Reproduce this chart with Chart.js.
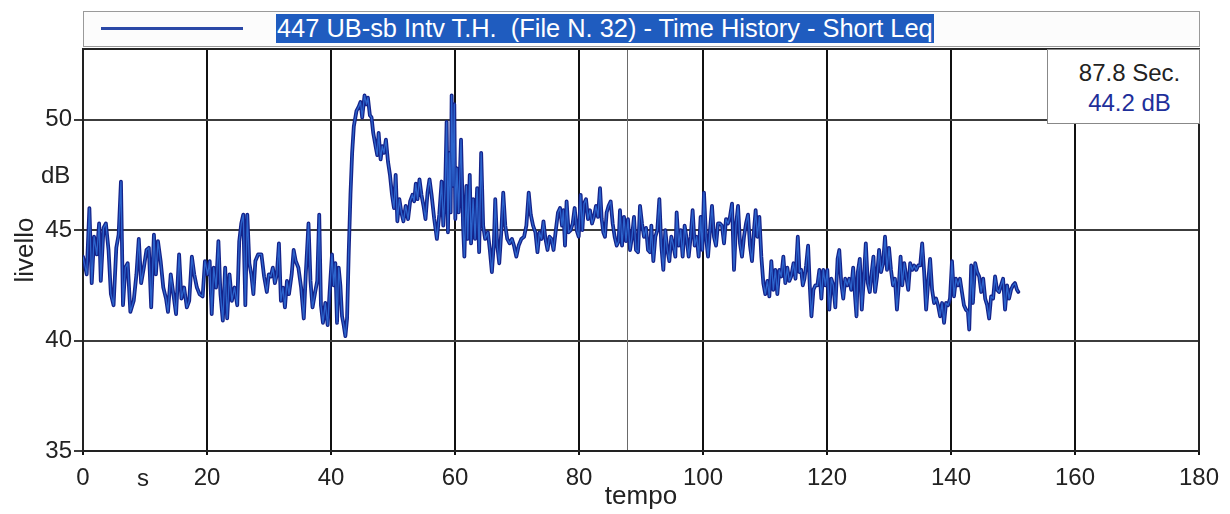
<!DOCTYPE html>
<html><head><meta charset="utf-8">
<script src="https://cdn.jsdelivr.net/npm/chart.js@4.4.1/dist/chart.umd.min.js"></script>
<style>
html,body{margin:0;padding:0;background:#fff;}
#wrap{position:relative;width:1230px;height:514px;font-family:"Liberation Sans",Arial,sans-serif;overflow:hidden;}
#c{position:absolute;left:0;top:0;}
#legend{position:absolute;left:83px;top:11px;width:1117px;height:36px;border:1px solid #9a9a9a;background:#fcfcfc;box-sizing:border-box;}
#legline{position:absolute;left:17px;top:15px;width:142px;height:3px;background:#2a48a6;}
#legtext{position:absolute;left:192px;top:2px;height:29px;line-height:29px;background:#1f5cbf;color:#fff;font-size:25.4px;white-space:pre;padding:0 1px;}
#info{position:absolute;left:1047px;top:49px;width:153px;height:75px;border:1px solid #888;background:#fff;box-sizing:border-box;text-align:center;font-size:24px;line-height:30px;padding:8px 0 0 12px;}
#info .t1{color:#222;}
#info .t2{color:#1e2f9a;}
.unit{position:absolute;font-size:24px;color:#222;line-height:24px;}
</style>
</head><body>
<div id="wrap">
<canvas id="c" width="1230" height="514"></canvas>
<div id="legend"><div id="legline"></div><span id="legtext"></span></div>
<div id="info"><div class="t1" id="infoTime"></div><div class="t2" id="infoLevel"></div></div>
<div class="unit" id="unitY" style="left:41px;top:163px;">dB</div>
<div class="unit" id="unitX" style="left:137px;top:466px;">s</div>
</div>
<script>
const seriesName = '447 UB-sb Intv T.H.  (File N. 32) - Time History - Short Leq';
const cursorTime = 87.8;
const cursorLevel = 44.2;
const xTickValues = [0, 20, 40, 60, 80, 100, 120, 140, 160, 180];
const yTickValues = [35, 40, 45, 50];

const times = [
0.0,0.6,1.03,1.41,1.79,2.22,2.6,2.87,3.31,3.69,4.12,4.5,4.93,5.37,5.75,6.12,6.45,6.83,7.21,7.64,
8.18,8.62,9.0,9.38,9.81,10.24,10.62,11.0,11.44,11.76,12.09,12.52,12.95,13.39,13.71,14.15,14.58,15.01,15.5,15.88,
16.31,16.75,17.13,17.56,17.94,18.37,18.81,19.3,19.67,20.11,20.43,20.76,21.08,21.46,21.84,22.17,22.55,22.93,23.25,23.63,
24.01,24.44,24.88,25.2,25.53,25.85,26.18,26.5,26.83,27.15,27.48,27.8,28.24,28.78,29.21,29.65,29.97,30.3,30.62,30.95,
31.27,31.6,31.92,32.25,32.57,32.9,33.22,33.66,33.98,34.31,34.74,35.18,35.61,35.93,36.37,36.69,37.02,37.45,37.78,38.1,
38.38,38.7,39.08,39.46,39.78,40.16,40.43,40.7,40.97,41.24,41.51,41.78,42.05,42.32,42.59,42.86,43.14,43.41,43.68,44.11,
44.49,44.76,45.03,45.41,45.73,45.95,46.27,46.54,46.81,47.19,47.46,47.68,48.0,48.27,48.54,48.86,49.19,49.51,49.84,50.16,
50.43,50.7,51.03,51.35,51.68,52.05,52.43,52.76,53.14,53.41,53.68,53.95,54.27,54.59,54.92,55.24,55.57,55.89,56.22,56.65,
57.08,57.46,57.84,58.11,58.43,58.65,58.86,59.08,59.3,59.46,59.68,59.89,60.05,60.32,60.59,60.97,61.3,61.51,61.84,62.05,
62.38,62.59,62.92,63.24,63.57,63.89,64.22,64.54,64.86,65.3,65.62,65.95,66.27,66.49,66.81,67.14,67.46,67.78,68.11,68.43,
68.81,69.19,69.51,69.89,70.27,70.7,71.14,71.51,71.89,72.22,72.59,72.97,73.3,73.62,73.95,74.27,74.59,74.92,75.24,75.57,
75.89,76.22,76.61,76.94,77.26,77.47,77.74,78.0,78.33,78.66,78.98,79.3,79.62,79.95,80.27,80.54,80.81,81.13,81.45,81.77,
82.1,82.42,82.74,83.06,83.39,83.66,83.92,84.19,84.46,84.78,85.11,85.43,85.75,86.08,86.4,86.61,86.94,87.26,87.58,87.9,
88.23,88.55,88.87,89.19,89.52,89.84,90.16,90.48,90.81,91.13,91.45,91.67,91.99,92.31,92.63,92.96,93.28,93.6,93.92,94.25,
94.57,94.89,95.22,95.54,95.75,96.08,96.4,96.72,97.04,97.37,97.69,98.01,98.33,98.66,98.98,99.3,99.62,99.89,100.16,100.48,
100.81,101.13,101.45,101.77,102.1,102.42,102.74,103.06,103.39,103.71,104.03,104.35,104.68,105.0,105.32,105.65,105.97,106.29,106.61,106.94,
107.26,107.58,107.9,108.23,108.49,108.76,109.09,109.41,109.73,110.05,110.38,110.7,111.02,111.34,111.67,111.99,112.31,112.63,112.96,113.28,
113.6,113.92,114.22,114.6,114.92,115.29,115.56,115.83,116.1,116.36,116.63,116.95,117.22,117.49,117.81,118.13,118.45,118.77,119.09,119.41,
119.73,120.05,120.37,120.7,121.02,121.34,121.71,121.98,122.3,122.62,122.94,123.26,123.58,123.9,124.22,124.55,124.76,124.97,125.29,125.61,
125.94,126.26,126.58,126.9,127.22,127.49,127.75,128.07,128.4,128.72,129.04,129.36,129.68,130.0,130.32,130.64,130.96,131.28,131.6,131.87,
132.14,132.46,132.78,133.1,133.42,133.74,134.06,134.39,134.71,135.03,135.35,135.67,135.99,136.31,136.63,136.95,137.27,137.59,137.91,138.24,
138.56,138.88,139.2,139.52,139.84,140.16,140.48,140.8,141.12,141.44,141.76,142.09,142.41,142.73,142.94,143.26,143.53,143.9,144.22,144.55,
144.87,145.19,145.51,145.83,146.15,146.47,146.79,147.11,147.43,147.75,148.07,148.4,148.72,149.04,149.36,149.68,150.0,150.32,150.64,150.86
];

const levels = [
43.8,43.0,46.0,42.6,44.7,43.9,45.3,42.7,45.1,45.3,44.1,42.1,41.6,44.2,44.8,47.2,41.6,43.3,43.5,41.3,
41.8,43.0,44.6,42.6,43.3,44.1,44.2,41.5,44.8,43.0,44.5,43.6,42.4,41.9,41.3,43.0,42.1,41.2,43.9,41.9,
42.4,41.5,41.8,43.8,43.0,42.4,42.1,42.0,43.6,43.0,43.6,41.2,43.3,42.4,44.5,42.1,40.9,43.3,41.0,43.0,
41.8,42.4,41.6,44.5,45.3,45.7,41.6,45.7,43.5,43.0,42.1,43.6,43.9,43.9,42.9,42.2,43.0,42.9,43.3,42.6,
43.0,44.4,41.8,42.4,41.5,42.7,42.1,43.0,44.1,43.6,43.3,42.4,41.0,43.0,45.3,42.7,41.5,42.2,42.7,45.7,
41.6,40.8,41.7,40.7,42.2,43.9,42.5,43.5,40.8,43.3,42.5,41.1,40.7,40.2,41.0,44.0,46.6,48.5,49.7,50.4,
50.6,50.8,50.1,51.1,50.7,51.0,50.2,50.1,49.4,48.8,48.4,49.4,48.2,48.8,48.5,49.1,48.1,47.5,46.6,46.0,
47.5,45.4,46.4,45.8,45.4,46.1,45.5,46.3,46.6,46.3,47.1,46.4,47.3,46.6,46.1,45.5,46.7,47.3,46.6,45.5,
44.6,45.7,47.2,45.2,47.0,49.9,44.9,48.5,45.8,51.1,47.0,50.7,45.5,47.8,45.8,49.1,45.2,43.8,47.0,44.6,
47.5,44.4,46.4,44.6,46.9,44.0,48.5,45.2,44.6,44.9,44.1,43.1,44.4,46.4,44.3,43.5,44.9,46.7,45.2,44.6,
44.4,44.6,44.3,43.8,44.3,44.6,44.7,45.2,46.7,45.7,45.2,44.9,44.0,44.9,44.6,45.4,44.6,44.1,44.7,44.6,
44.1,44.9,45.8,46.0,45.2,45.9,44.3,46.3,44.9,45.0,45.3,46.0,45.0,44.7,46.6,45.0,46.2,46.4,45.5,45.9,
45.3,45.6,46.1,45.6,46.9,45.5,44.9,44.7,45.8,46.1,46.3,45.3,44.7,44.3,44.5,45.9,44.3,45.6,44.5,45.5,
44.1,44.7,45.6,44.1,44.0,46.1,45.3,44.7,45.1,44.1,44.0,45.2,43.6,44.7,45.0,46.4,44.3,43.2,45.0,44.1,
43.6,44.7,44.3,43.8,45.8,44.3,45.0,43.8,45.2,44.6,43.8,44.7,45.9,44.3,44.7,43.8,45.6,44.1,46.7,44.7,
43.8,45.0,46.1,44.7,44.3,45.3,45.3,45.2,44.4,45.5,45.3,45.6,46.2,43.2,45.2,46.1,44.4,43.8,44.7,45.3,
45.7,44.3,43.6,45.0,45.9,44.7,45.6,43.8,42.6,42.1,42.7,42.0,43.6,42.3,43.2,42.1,43.2,42.9,43.8,42.6,
43.3,42.7,42.9,43.5,42.8,44.7,43.1,43.2,42.5,42.8,43.4,44.3,42.5,41.1,42.3,42.5,42.5,43.2,41.9,43.2,
42.5,43.2,41.4,42.8,42.5,41.5,43.7,44.1,42.6,41.9,42.8,42.5,42.8,42.3,43.3,41.9,41.1,43.1,43.7,41.4,
42.8,44.4,42.6,42.2,43.1,43.8,42.2,42.9,44.1,43.1,43.5,44.7,43.2,44.2,43.2,42.5,42.8,41.4,42.6,43.8,
42.5,43.5,42.9,42.3,43.5,43.2,43.4,43.2,43.4,43.4,44.4,43.1,41.4,42.6,43.7,42.3,41.7,41.9,41.6,41.1,
41.7,40.8,41.7,41.6,41.9,43.6,42.0,42.8,42.5,42.8,42.2,41.6,41.4,41.3,40.5,43.4,41.7,43.5,43.1,42.9,
42.2,42.8,41.9,41.6,41.0,42.0,41.9,42.9,42.3,42.2,42.5,42.8,41.4,42.5,41.9,42.3,42.5,42.6,42.3,42.2
];

document.getElementById('legtext').textContent = seriesName;
document.getElementById('infoTime').textContent = cursorTime.toFixed(1) + ' Sec.';
document.getElementById('infoLevel').textContent = cursorLevel.toFixed(1) + ' dB';

const points = times.map((t, i) => ({x: t, y: levels[i]}));
const FONT = '"Liberation Sans", Arial, sans-serif';
Chart.defaults.font.family = FONT;
Chart.defaults.color = '#222';

const framePlugin = {
  id: 'frame',
  beforeDatasetsDraw(chart) {
    const {ctx, chartArea: a, scales} = chart;
    ctx.save();
    const cx = Math.round(scales.x.getPixelForValue(cursorTime)) + 0.5;
    ctx.strokeStyle = '#6a6a6a';
    ctx.lineWidth = 1;
    ctx.beginPath(); ctx.moveTo(cx, a.top); ctx.lineTo(cx, a.bottom); ctx.stroke();
    ctx.strokeStyle = '#222';
    ctx.lineWidth = 2;
    ctx.strokeRect(a.left, a.top, a.right - a.left, a.bottom - a.top);
    ctx.restore();
  }
};

new Chart(document.getElementById('c'), {
  type: 'line',
  data: {
    datasets: [
      {data: points, borderColor: '#14238a', borderWidth: 3.8, borderJoinStyle: 'round', borderCapStyle: 'round', pointRadius: 0, tension: 0, order: 2},
      {data: points, borderColor: '#2c64cc', borderWidth: 1.3, borderJoinStyle: 'round', pointRadius: 0, tension: 0, order: 1}
    ]
  },
  options: {
    responsive: false,
    animation: false,
    devicePixelRatio: 1,
    layout: {padding: {top: 49, right: 31, left: 0, bottom: 0}},
    plugins: {legend: {display: false}, tooltip: {enabled: false}},
    scales: {
      x: {
        type: 'linear', min: 0, max: 180,
        afterBuildTicks: s => { s.ticks = xTickValues.map(v => ({value: v})); },
        afterFit: s => { s.height = 63; },
        ticks: {font: {size: 24}, color: '#222', padding: 9, maxRotation: 0, autoSkip: false},
        grid: {color: '#111', lineWidth: 2, tickLength: 4},
        border: {color: '#333', width: 2},
        title: {display: true, text: 'tempo', font: {size: 26}, color: '#222', padding: {top: 0, bottom: 2}}
      },
      y: {
        type: 'linear', min: 35, max: 53.2,
        afterBuildTicks: s => { s.ticks = yTickValues.map(v => ({value: v})); },
        afterFit: s => { s.width = 83; },
        ticks: {font: {size: 24}, color: '#222', padding: 2},
        grid: {color: '#3c3c3c', lineWidth: 2, tickLength: 9},
        border: {color: '#111', width: 2},
        title: {display: true, text: 'livello', font: {size: 26}, color: '#222', padding: {top: 10, bottom: 0}}
      }
    }
  },
  plugins: [framePlugin]
});
</script>
</body></html>
